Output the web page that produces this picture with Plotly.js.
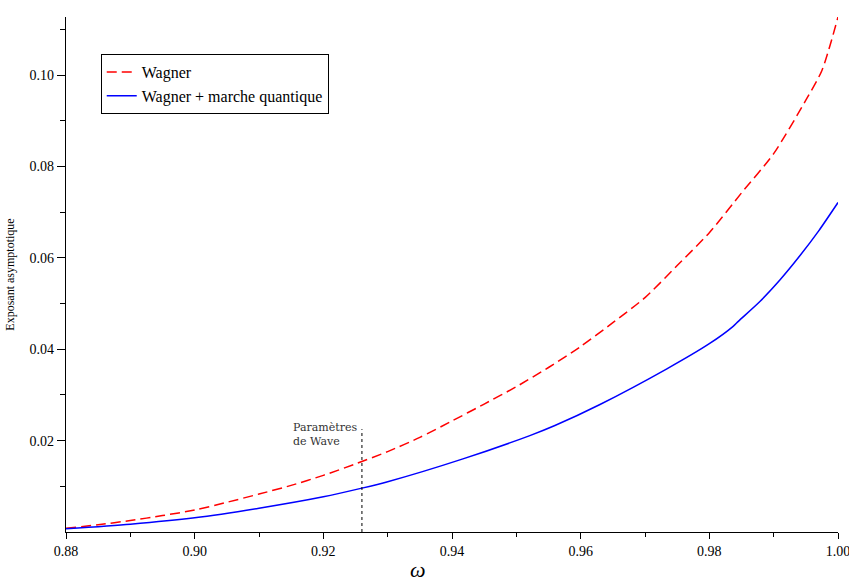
<!DOCTYPE html>
<html>
<head>
<meta charset="utf-8">
<script src="https://cdn.plot.ly/plotly-3.0.1.min.js"></script>
<style>html,body{margin:0;padding:0;background:#fff;}#chart{width:849px;height:583px;}</style>
</head>
<body>
<div id="chart"></div>
<script>
// Wagner (red dashed)
const omegaWagner = [0.880, 0.885, 0.890, 0.895, 0.900, 0.905, 0.910, 0.915, 0.920, 0.925, 0.930, 0.935, 0.940, 0.945, 0.950, 0.955, 0.960, 0.965, 0.970, 0.975, 0.980, 0.985, 0.990, 0.995, 0.9975, 1.000];
const expWagner   = [0.0008, 0.0016, 0.0025, 0.0036, 0.0048, 0.0065, 0.0083, 0.0102, 0.0124, 0.0149, 0.0176, 0.0207, 0.0243, 0.0280, 0.0318, 0.0360, 0.0406, 0.0458, 0.0513, 0.0583, 0.0655, 0.0742, 0.0828, 0.0945, 0.1010, 0.1127];
// Wagner + marche quantique (blue solid)
const omegaQuant = [0.880, 0.890, 0.900, 0.910, 0.920, 0.926, 0.930, 0.9417, 0.9521, 0.956, 0.963, 0.9734, 0.980, 0.9837, 0.9845, 0.9879, 0.991, 0.9941, 0.997, 1.000];
const expQuant   = [0.0007, 0.0017, 0.0031, 0.0052, 0.0077, 0.0096, 0.0110, 0.0160, 0.0211, 0.0233, 0.0279, 0.0357, 0.0412, 0.0450, 0.0461, 0.0505, 0.0552, 0.0605, 0.0659, 0.0721];
// Axis ticks
const xTickVals = [0.88, 0.90, 0.92, 0.94, 0.96, 0.98, 1.00];
const xTickText = ['0.88', '0.90', '0.92', '0.94', '0.96', '0.98', '1.00'];
const xMinorVals = [0.89, 0.91, 0.93, 0.95, 0.97, 0.99];
const yTickVals = [0.02, 0.04, 0.06, 0.08, 0.10];
const yTickText = ['0.02', '0.04', '0.06', '0.08', '0.10'];
const yMinorVals = [0.01, 0.03, 0.05, 0.07, 0.09, 0.11];
// Wave parameters marker
const waveOmega = 0.926;
const waveTop = 0.0225;
const waveLabel = 'Paramètres<br>de Wave';

const serif = 'Liberation Serif, serif';

const traces = [
  {x: omegaWagner, y: expWagner, type: 'scatter', mode: 'lines', name: 'Wagner',
   line: {color: '#ff0000', width: 1.5, dash: '10px,5px', shape: 'spline', smoothing: 0.7}},
  {x: omegaQuant, y: expQuant, type: 'scatter', mode: 'lines', name: 'Wagner + marche quantique',
   line: {color: '#0000ff', width: 1.5, shape: 'spline', smoothing: 0.7}}
];

const layout = {
  width: 849, height: 583,
  margin: {l: 66, r: 11, t: 17, b: 51},
  paper_bgcolor: '#fff', plot_bgcolor: '#fff',
  font: {family: serif, size: 14, color: '#000'},
  showlegend: true,
  legend: {x: 0.045, y: 0.928, xanchor: 'left', yanchor: 'top',
    bordercolor: '#000', borderwidth: 1, bgcolor: '#fff',
    font: {family: serif, size: 16, color: '#000'}, tracegroupgap: 0},
  xaxis: {range: [0.88, 1.00], showgrid: false, zeroline: false,
    showline: true, linecolor: '#000', linewidth: 1.2,
    ticks: 'outside', ticklen: 6, tickcolor: '#000', tickwidth: 1,
    tickmode: 'array', tickvals: xTickVals, ticktext: xTickText,
    ticklabeloverflow: 'allow',
    tickfont: {family: serif, size: 14, color: '#000'},
    minor: {tickmode: 'array', tickvals: xMinorVals, ticks: 'outside', ticklen: 4, tickcolor: '#000', showgrid: false}},
  yaxis: {range: [0, 0.1127], showgrid: false, zeroline: false,
    showline: true, linecolor: '#000', linewidth: 1.2,
    ticks: 'outside', ticklen: 8, tickcolor: '#000', tickwidth: 1,
    tickmode: 'array', tickvals: yTickVals, ticktext: yTickText,
    tickfont: {family: serif, size: 14, color: '#000'},
    minor: {tickmode: 'array', tickvals: yMinorVals, ticks: 'outside', ticklen: 5, tickcolor: '#000', showgrid: false},
    title: {text: 'Exposant asymptotique', font: {family: serif, size: 12, color: '#000'}, standoff: 12}},
  shapes: [
    {type: 'line', xref: 'x', yref: 'y', x0: waveOmega, x1: waveOmega, y0: 0, y1: waveTop,
     line: {color: '#000', width: 1, dash: 'dot'}}
  ],
  annotations: [
    {xref: 'x', yref: 'y', x: waveOmega, y: waveTop + 0.0022, xanchor: 'right', yanchor: 'top',
     xshift: -3, text: waveLabel, showarrow: false, align: 'left',
     font: {family: 'DejaVu Serif, serif', size: 11, color: '#333'}},
    {xref: 'paper', yref: 'paper', x: 0.456, y: -0.072, xanchor: 'center', yanchor: 'middle',
     text: '<i>ω</i>', showarrow: false, font: {family: serif, size: 22, color: '#000'}}
  ]
};

Plotly.newPlot('chart', traces, layout, {displayModeBar: false, responsive: false});
</script>
</body>
</html>
